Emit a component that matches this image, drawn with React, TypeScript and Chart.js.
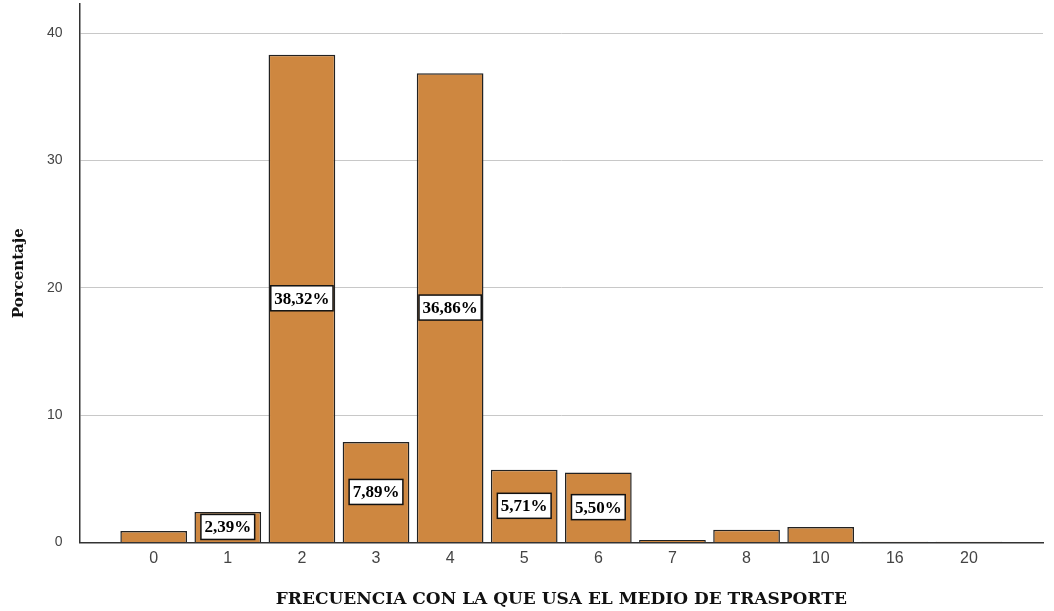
import React, { useEffect, useRef } from "react";
import { Chart, registerables } from "chart.js";

Chart.register(...registerables);

const categories = ["0", "1", "2", "3", "4", "5", "6", "7", "8", "10", "16", "20"];
const percentages = [0.9, 2.39, 38.32, 7.89, 36.86, 5.71, 5.5, 0.19, 1.0, 1.21, 0.05, 0.05];
const labeledCategories = ["1", "2", "3", "4", "5", "6"];
const yTicks = [0, 10, 20, 30, 40];
const yMax = 42.3;
const yTitle = "Porcentaje";
const xTitle = "FRECUENCIA CON LA QUE USA EL MEDIO DE TRASPORTE";

const fmt = (v: number) => v.toFixed(2).replace(".", ",") + "%";

const labelPlugin = {
  id: "boxLabels",
  afterDatasetsDraw(chart: any) {
    const meta = chart.getDatasetMeta(0);
    const ctx = chart.ctx;
    ctx.save();
    ctx.font = "bold 17px 'Liberation Serif'";
    ctx.textAlign = "center";
    ctx.textBaseline = "middle";
    meta.data.forEach((bar: any, i: number) => {
      if (!labeledCategories.includes(categories[i])) return;
      const { x, y, base } = bar.getProps(["x", "y", "base"], true);
      const cy = (y + base) / 2;
      const text = fmt(percentages[i]);
      const w = ctx.measureText(text).width + 7;
      const h = 25;
      ctx.fillStyle = "#ffffff";
      ctx.fillRect(x - w / 2, cy - h / 2, w, h);
      ctx.strokeStyle = "#111";
      ctx.lineWidth = 1.5;
      ctx.strokeRect(x - w / 2, cy - h / 2, w, h);
      ctx.fillStyle = "#000";
      ctx.fillText(text, x, cy + 1);
    });
    ctx.restore();
  },
};

const zeroPad = (scale: any) => {
  scale.paddingTop = 0;
  scale.paddingBottom = 0;
};

export default function App() {
  const ref = useRef<HTMLCanvasElement>(null);
  useEffect(() => {
    const chart = new Chart(ref.current!, {
      type: "bar",
      data: {
        datasets: [
          {
            data: percentages.map((v, i) => ({ x: i, y: v })),
            backgroundColor: "rgb(206,135,64)",
            borderColor: "#222",
            borderWidth: 1.5,
            categoryPercentage: 1,
            barPercentage: 0.9,
          },
        ],
      },
      options: {
        animation: false,
        responsive: true,
        maintainAspectRatio: false,
        layout: { padding: { top: 4, right: 11, left: 10, bottom: 0 } },
        plugins: { legend: { display: false }, tooltip: { enabled: false } },
        scales: {
          x: {
            type: "linear",
            min: -1,
            max: categories.length,
            offset: false,
            afterBuildTicks: (scale: any) => {
              scale.ticks = categories.map((_, i) => ({ value: i }));
            },
            ticks: {
              autoSkip: false,
              maxRotation: 0,
              callback: (v: any) => categories[v] ?? "",
              font: { family: "'Liberation Sans'", size: 16 },
              color: "#444",
              padding: 7,
            },
            grid: { display: false, drawTicks: false },
            border: { display: true, color: "#333", width: 1.5 },
            title: {
              display: true,
              text: xTitle,
              font: { family: "'DejaVu Serif'", size: 17, weight: "bold" },
              color: "#111",
              padding: { top: 14, bottom: 1 },
            },
          },
          y: {
            min: 0,
            max: yMax,
            afterBuildTicks: (scale: any) => {
              scale.ticks = yTicks.map((v) => ({ value: v }));
            },
            afterFit: zeroPad,
            ticks: {
              font: { family: "'Liberation Sans'", size: 14 },
              color: "#444",
              padding: 17,
            },
            grid: { color: "#c8c8c8", drawTicks: false, lineWidth: 1 },
            border: { display: true, color: "#333", width: 1.5 },
            title: {
              display: true,
              text: yTitle,
              font: { family: "'DejaVu Serif'", size: 15, weight: "bold" },
              color: "#111",
              padding: { top: 0, bottom: 2 },
            },
          },
        },
      },
      plugins: [labelPlugin],
    });
    return () => chart.destroy();
  }, []);
  return (
    <div style={{ position: "fixed", left: 0, top: 0, width: 1054, height: 611, background: "#fff" }}>
      <canvas ref={ref} />
    </div>
  );
}
